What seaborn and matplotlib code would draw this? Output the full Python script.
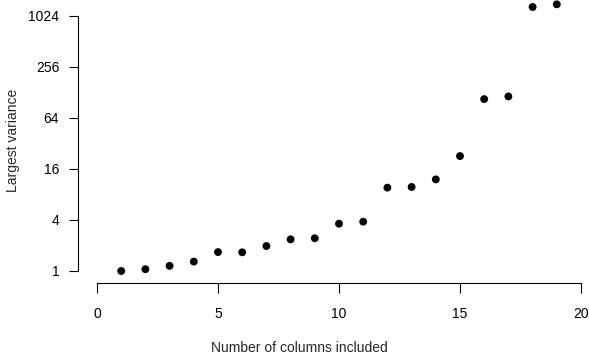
import numpy as np
import pandas as pd
import seaborn as sns
import matplotlib
matplotlib.use("Agg")
import matplotlib.pyplot as plt
from matplotlib.ticker import FixedLocator, FixedFormatter, NullLocator

##
# data
##
n_columns = list(range(1, 20))
largest_variance = [1.0, 1.05, 1.15, 1.29, 1.67, 1.66, 1.97, 2.36, 2.43, 3.61,
                    3.81, 9.6, 9.77, 12.0, 22.6, 106, 114, 1290, 1387]
y_ticks = [1, 4, 16, 64, 256, 1024]
x_ticks = [0, 5, 10, 15, 20]

df = pd.DataFrame({'cols': n_columns, 'var': largest_variance})

sns.set_style("ticks")
plt.rcParams['font.family'] = ['Liberation Sans', 'DejaVu Sans']

fig = plt.figure(figsize=(5.89, 3.54), dpi=100)
ax = fig.add_axes([78/589, 1 - 283/354, 503/589, 283/354])

sns.scatterplot(data=df, x='cols', y='var', ax=ax, color='black', s=32,
                edgecolor='none', linewidth=0, clip_on=False, zorder=3)

ax.set_yscale('log', base=2)
ax.set_xlim(-0.785, 20)
ax.set_ylim(2 ** (-12 / 25.55), 2 ** (271 / 25.55))

ax.yaxis.set_major_locator(FixedLocator(y_ticks))
ax.yaxis.set_major_formatter(FixedFormatter([str(t) for t in y_ticks]))
ax.yaxis.set_minor_locator(NullLocator())
ax.set_xticks(x_ticks)
ax.set_xticklabels([str(t) for t in x_ticks])

# R style detached axes
for s in ['top', 'right']:
    ax.spines[s].set_visible(False)
ax.spines['left'].set_bounds(1, 1024)
ax.spines['bottom'].set_bounds(0, 20)
for s in ['left', 'bottom']:
    ax.spines[s].set_linewidth(0.8)
    ax.spines[s].set_color('black')

ax.tick_params(axis='y', length=6.5, width=0.8, pad=7, labelsize=10, colors='black')
ax.tick_params(axis='x', length=7, width=0.8, pad=10, labelsize=10, colors='black')

ax.set_xlabel('Number of columns included', fontsize=10)
ax.set_ylabel('Largest variance', fontsize=10)
ax.xaxis.set_label_coords(0.441, -0.23)
ax.xaxis.label.set_va('center')
ax.yaxis.set_label_coords(-0.129, 0.505)
ax.yaxis.label.set_va('center')

fig.savefig('out.png', dpi=100)
